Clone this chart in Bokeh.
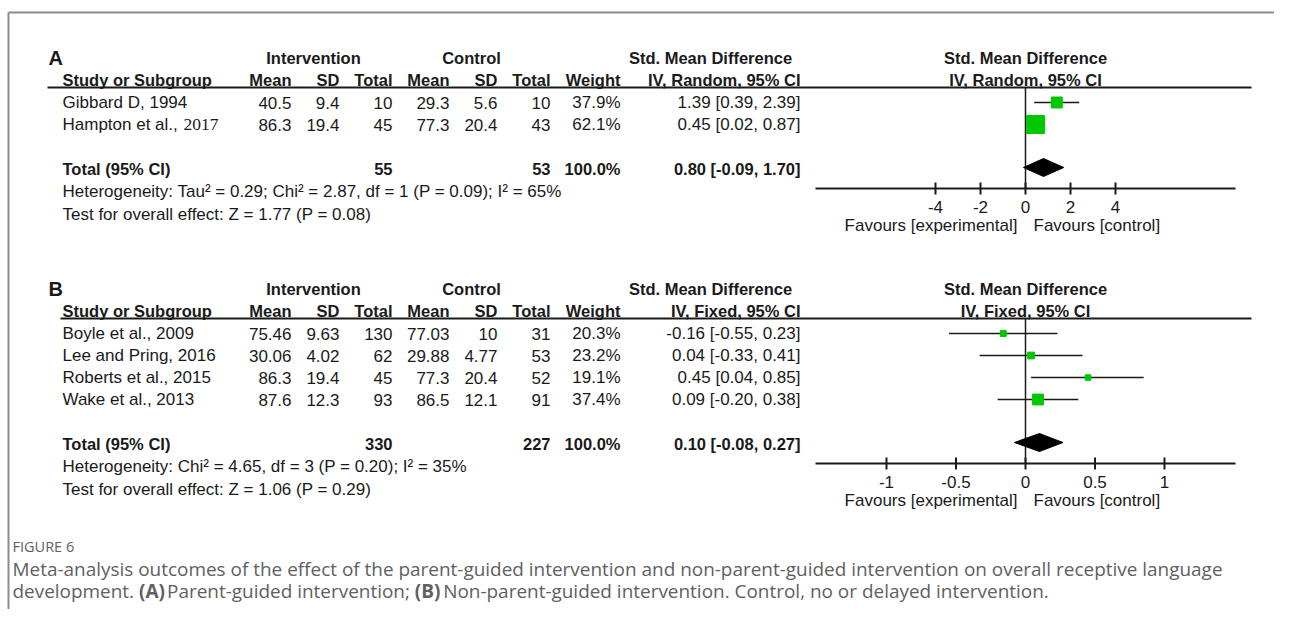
import subprocess
from bokeh.plotting import figure
from bokeh.models import Range1d
from bokeh.core.properties import value
from bokeh.embed import file_html
from bokeh.resources import INLINE

# ---------------- data ----------------
# Panel A: parent-guided intervention (random effects)
studies_a = ["Gibbard D, 1994", "Hampton et al., 2017"]
int_mean_a = [40.5, 86.3]
int_sd_a = [9.4, 19.4]
int_n_a = [10, 45]
ctl_mean_a = [29.3, 77.3]
ctl_sd_a = [5.6, 20.4]
ctl_n_a = [10, 43]
weight_a = [37.9, 62.1]
smd_a = [1.39, 0.45]
lo_a = [0.39, 0.02]
hi_a = [2.39, 0.87]
total_a = [55, 53, 100.0, 0.80, -0.09, 1.70]
het_a = "Heterogeneity: Tau\u00b2 = 0.29; Chi\u00b2 = 2.87, df = 1 (P = 0.09); I\u00b2 = 65%"
test_a = "Test for overall effect: Z = 1.77 (P = 0.08)"
ticks_a = [-4, -2, 0, 2, 4]

# Panel B: non-parent-guided intervention (fixed effect)
studies_b = ["Boyle et al., 2009", "Lee and Pring, 2016", "Roberts et al., 2015", "Wake et al., 2013"]
int_mean_b = [75.46, 30.06, 86.3, 87.6]
int_sd_b = [9.63, 4.02, 19.4, 12.3]
int_n_b = [130, 62, 45, 93]
ctl_mean_b = [77.03, 29.88, 77.3, 86.5]
ctl_sd_b = [10, 4.77, 20.4, 12.1]
ctl_n_b = [31, 53, 52, 91]
weight_b = [20.3, 23.2, 19.1, 37.4]
smd_b = [-0.16, 0.04, 0.45, 0.09]
lo_b = [-0.55, -0.33, 0.04, -0.20]
hi_b = [0.23, 0.41, 0.85, 0.38]
total_b = [330, 227, 100.0, 0.10, -0.08, 0.27]
het_b = "Heterogeneity: Chi\u00b2 = 4.65, df = 3 (P = 0.20); I\u00b2 = 35%"
test_b = "Test for overall effect: Z = 1.06 (P = 0.29)"
ticks_b = [-1, -0.5, 0, 0.5, 1]

fig_label = "FIGURE 6"
caption_1 = ("Meta-analysis outcomes of the effect of the parent-guided intervention and "
             "non-parent-guided intervention on overall receptive language")
caption_2 = [("development. ", False), ("(A) ", True), ("Parent-guided intervention; ", False),
             ("(B) ", True), ("Non-parent-guided intervention. Control, no or delayed intervention.", False)]

# ---------------- style / layout ----------------
FONT = "Liberation Sans"
REG = "17px"
BOLD = "16.5px"
TXT = "#1a1a1a"
CAP_FONT = "Open Sans"
CAP_COLOR = "#606060"
GREEN = "#00C800"
ZERO_PX = 1025
W, H = 1274, 609
serif_tail = {"Hampton et al., 2017": 4}


def _font_file(pattern):
    try:
        return subprocess.run(["fc-match", "-f", "%{file}", pattern],
                              capture_output=True, text=True, timeout=5).stdout.strip()
    except Exception:
        return None


def text_width(s, pattern, size_px):
    try:
        from PIL import ImageFont
        f = ImageFont.truetype(_font_file(pattern), size_px)
        return f.getlength(s)
    except Exception:
        return len(s) * size_px * 0.5


p = figure(width=W, height=H, x_range=Range1d(0, W), y_range=Range1d(H, 0),
           output_backend="svg", toolbar_location=None, x_axis_type=None, y_axis_type=None,
           min_border=0, outline_line_color=None, background_fill_color="white",
           border_fill_color="white")
p.grid.visible = False

p.extra_x_ranges = {
    "fa": Range1d((0 - ZERO_PX) / 22.5, (W - ZERO_PX) / 22.5),
    "fb": Range1d((0 - ZERO_PX) / 139.0, (W - ZERO_PX) / 139.0),
}


def txt(x, y, s, align="left", bold=False, size=None, font=FONT, color=TXT, rname=None, xoff=0):
    kw = dict(x=x, y=y, text=s, text_align=align, text_baseline="middle",
              text_font=value(font), text_font_size=size or (BOLD if bold else REG),
              text_color=color, text_font_style="bold" if bold else "normal", x_offset=xoff)
    if rname:
        kw["x_range_name"] = rname
    p.text(**kw)


def g(v):
    return f"{v:g}"


COLS = dict(imean=291, isd=339, inn=392, cmean=449, csd=497, cnn=550, w=620, ci=800)


def draw_panel(top, letter, method, studies, im, isd, inn, cm, csd, cn, w, est, lo, hi,
               tot, het, test, ticks, ppu, rname, line_x0):
    n = len(studies)
    h2 = top + 22
    line_y = top + 30
    rows = [top + 45 + 22 * i for i in range(n)]
    tot_y = rows[-1] + 44
    het_y = tot_y + 23
    test_y = tot_y + 46
    axis_y = tot_y + 20
    lab_y = tot_y + 38
    fav_y = tot_y + 57

    # header
    txt([48], [top], [letter], bold=True, size="20px")
    txt([313, 471, 710], [top] * 3, ["Intervention", "Control", "Std. Mean Difference"],
        align="center", bold=True)
    txt([62], [h2], ["Study or Subgroup"], bold=True)
    heads = ["Mean", "SD", "Total", "Mean", "SD", "Total", "Weight", f"IV, {method}, 95% CI"]
    txt(list(COLS.values()), [h2] * 8, heads, align="right", bold=True)
    txt([0, 0], [top, h2], ["Std. Mean Difference", f"IV, {method}, 95% CI"],
        align="center", bold=True, rname=rname)
    p.segment(x0=[line_x0], x1=[1251], y0=[line_y], y1=[line_y], line_color=TXT, line_width=2)

    # study rows
    names = []
    for s, y in zip(studies, rows):
        k = serif_tail.get(s, 0)
        if k:
            head, tail = s[:-k], s[-k:]
            names.append(head)
            wpx = text_width(head, "Liberation Sans", 17)
            txt([62 + wpx + 1], [y], [tail], font="Liberation Serif", size="17.5px")
        else:
            names.append(s)
    txt([62] * n, rows, names)
    for key, vals in (("imean", im), ("isd", isd), ("inn", inn), ("cmean", cm),
                      ("csd", csd), ("cnn", cn)):
        txt([COLS[key]] * n, rows, [g(v) for v in vals], align="right")
    txt([COLS["w"]] * n, rows, [f"{v:.1f}%" for v in w], align="right")
    txt([COLS["ci"]] * n, rows, [f"{e:.2f} [{a:.2f}, {b:.2f}]" for e, a, b in zip(est, lo, hi)],
        align="right")

    # total row
    txt([62], [tot_y], ["Total (95% CI)"], bold=True)
    txt([COLS["inn"], COLS["cnn"], COLS["w"], COLS["ci"]], [tot_y] * 4,
        [g(tot[0]), g(tot[1]), f"{tot[2]:.1f}%", f"{tot[3]:.2f} [{tot[4]:.2f}, {tot[5]:.2f}]"],
        align="right", bold=True)
    txt([62, 62], [het_y, test_y], [het, test])

    # forest plot
    half = 210.0 / ppu
    p.segment(x0=[0], x1=[0], y0=[line_y], y1=[axis_y], line_color=TXT, line_width=1.5,
              x_range_name=rname)
    p.segment(x0=lo, x1=hi, y0=rows, y1=rows, line_color=TXT, line_width=1.5, x_range_name=rname)
    p.scatter(x=est, y=rows, size=[v * 0.29 for v in w], marker="square", fill_color=GREEN,
              line_color=GREEN, x_range_name=rname)
    p.patch(x=[tot[4], tot[3], tot[5], tot[3]], y=[tot_y - 1, tot_y - 10, tot_y - 1, tot_y + 8],
            fill_color="black", line_color="black", x_range_name=rname)
    p.segment(x0=[-half], x1=[half], y0=[axis_y], y1=[axis_y], line_color=TXT, line_width=2,
              x_range_name=rname)
    p.segment(x0=ticks, x1=ticks, y0=[axis_y - 6] * len(ticks), y1=[axis_y + 6] * len(ticks),
              line_color=TXT, line_width=2, x_range_name=rname)
    txt(ticks, [lab_y] * len(ticks), [g(t) for t in ticks], align="center", rname=rname)
    txt([0], [fav_y], ["Favours [experimental]"], align="right", rname=rname, xoff=-8)
    txt([0], [fav_y], ["Favours [control]"], align="left", rname=rname, xoff=8)


draw_panel(57, "A", "Random", studies_a, int_mean_a, int_sd_a, int_n_a, ctl_mean_a, ctl_sd_a,
           ctl_n_a, weight_a, smd_a, lo_a, hi_a, total_a, het_a, test_a, ticks_a, 22.5, "fa", 47)
draw_panel(288, "B", "Fixed", studies_b, int_mean_b, int_sd_b, int_n_b, ctl_mean_b, ctl_sd_b,
           ctl_n_b, weight_b, smd_b, lo_b, hi_b, total_b, het_b, test_b, ticks_b, 139.0, "fb", 60)

# frame lines
p.segment(x0=[8, 8], x1=[8, W], y0=[12, 12], y1=[H, 12], line_color="#8c8c8c", line_width=2)

# caption (size chosen so that line 1 spans the same width as in the original)
cap_px = 17 * 1211.0 / max(1.0, text_width(caption_1, CAP_FONT, 17))
cap_px = max(14.0, min(19.0, cap_px))
txt([12], [546], [fig_label], font=CAP_FONT, size="14.5px", color=CAP_COLOR)
txt([12], [568], [caption_1], font=CAP_FONT, size=f"{cap_px:.2f}px", color=CAP_COLOR)
x = 12.0
for s, b in caption_2:
    txt([x], [590], [s], font=CAP_FONT, size=f"{cap_px:.2f}px", color=CAP_COLOR, bold=b)
    x += text_width(s, CAP_FONT + (":bold" if b else ""), cap_px)

open("out.html", "w").write(file_html(p, INLINE))
